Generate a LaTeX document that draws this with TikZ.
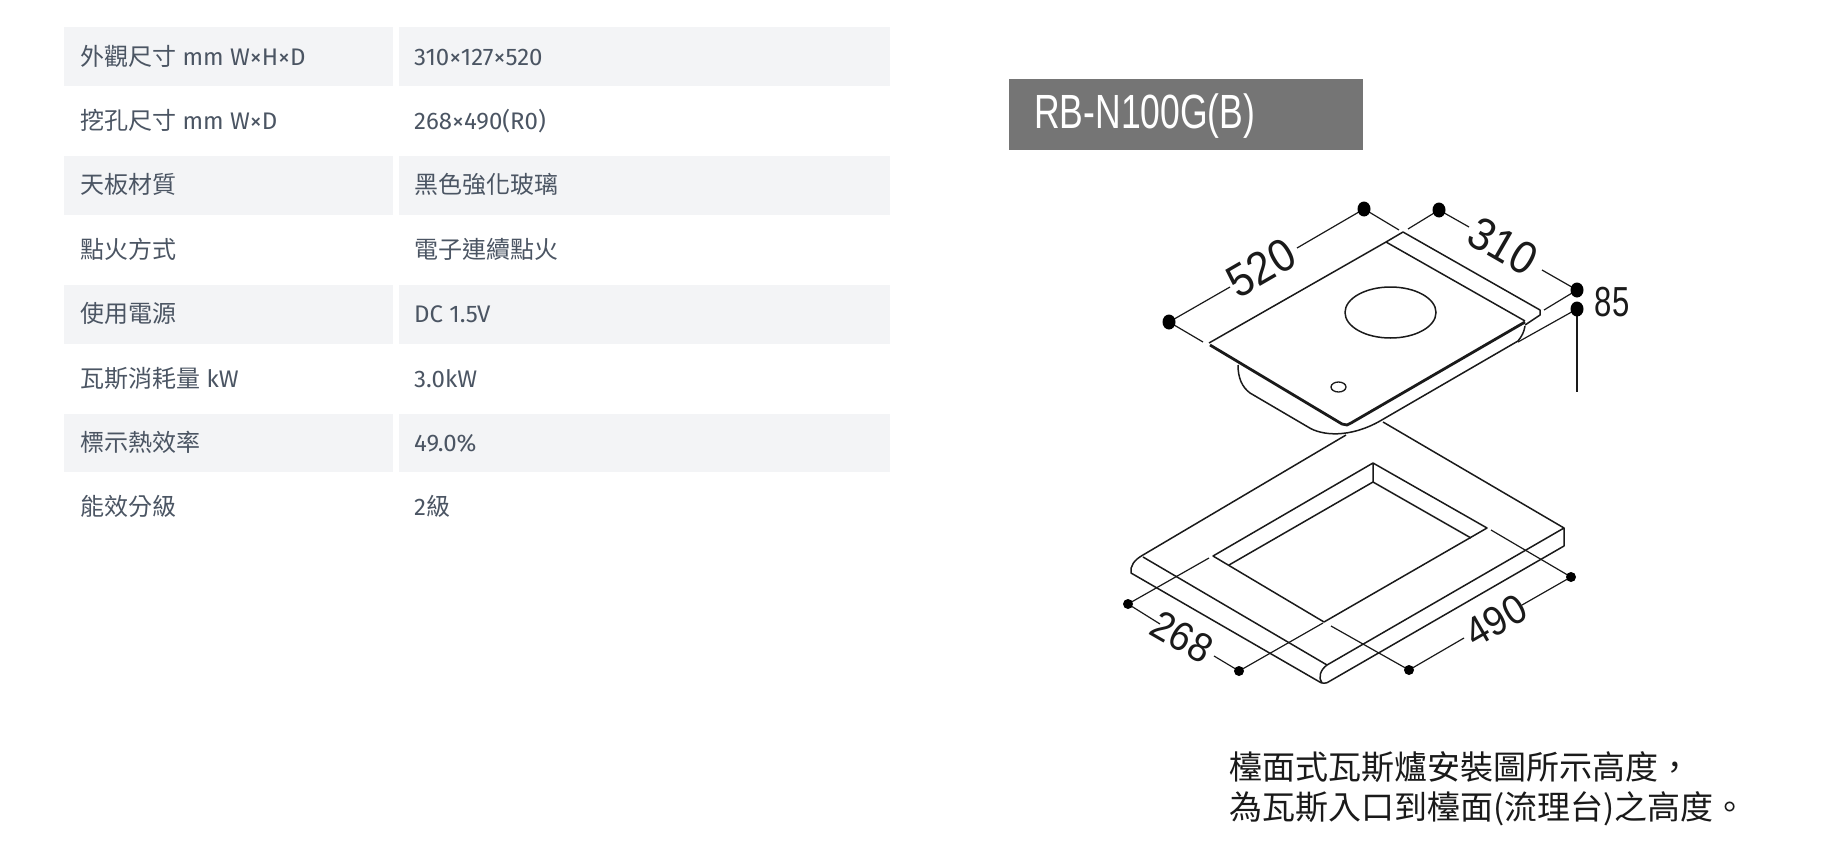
\documentclass[tikz,border=0pt]{standalone}
\usepackage{fontspec}
\usetikzlibrary{shapes.geometric}
\setmainfont{Fira Sans}
\newfontfamily\cjk{Noto Sans CJK TC}
\newfontfamily\dimfont[FakeStretch=0.74]{Liberation Sans}
\newfontfamily\numfont[FakeStretch=0.92]{Liberation Sans}
\definecolor{rowbg}{HTML}{F3F4F6}
\definecolor{rowtx}{HTML}{4B5563}
\definecolor{titlebg}{HTML}{757575}
\definecolor{ink}{HTML}{1A1A1A}
\tikzset{
  celltext/.style={anchor=base west,inner sep=0pt,text=rowtx,font=\fontsize{24}{24}\selectfont},
  dimline/.style={line width=1.2pt,draw=ink},
  edgeline/.style={line width=1.5pt,draw=ink,line join=round},
  thickedge/.style={line width=2.8pt,draw=ink,line join=round},
  dimdot/.style={ellipse,fill=black,inner sep=0pt,minimum width=13pt,minimum height=15pt},
  smalldot/.style={circle,fill=black,inner sep=0pt,minimum size=10pt},
  dimtext/.style={inner sep=0pt,text=ink,font=\numfont\fontsize{46}{46}\selectfont},
  lowdimtext/.style={inner sep=0pt,text=ink,font=\numfont\fontsize{41}{41}\selectfont},
}
\begin{document}
\begin{tikzpicture}[x=1pt,y=-1pt]
\useasboundingbox (0,0) rectangle (1826,846);
% table
\foreach \r in {27,156,285,413.5}{
  \fill[rowbg] (64,\r) rectangle (393,\r+58.5);
  \fill[rowbg] (399,\r) rectangle (890,\r+58.5);
}
\node[celltext] (l1) at (80,65) {{\cjk 外觀尺寸} mm W×H×D};
\node[celltext] (v1) at (414,65) {310×127×520};
\node[celltext] (l2) at (80,129) {{\cjk 挖孔尺寸} mm W×D};
\node[celltext] (v2) at (414,129) {268×490(R0)};
\node[celltext] (l3) at (80,193) {{\cjk 天板材質}};
\node[celltext] (v3) at (414,193) {{\cjk 黑色強化玻璃}};
\node[celltext] (l4) at (80,258) {{\cjk 點火方式}};
\node[celltext] (v4) at (414,258) {{\cjk 電子連續點火}};
\node[celltext] (l5) at (80,322) {{\cjk 使用電源}};
\node[celltext] (v5) at (414,322) {DC 1.5V};
\node[celltext] (l6) at (80,387) {{\cjk 瓦斯消耗量} kW};
\node[celltext] (v6) at (414,387) {3.0kW};
\node[celltext] (l7) at (80,451) {{\cjk 標示熱效率}};
\node[celltext] (v7) at (414,451) {49.0\%};
\node[celltext] (l8) at (80,515) {{\cjk 能效分級}};
\node[celltext] (v8) at (414,515) {2{\cjk 級}};
% title
\fill[titlebg] (1009,79) rectangle (1363,150);
\node[anchor=base west,inner sep=0pt,text=white,font=\dimfont\fontsize{48}{48}\selectfont] (title) at (1034,128) {RB-N100G(B)};
% coordinates upper
\coordinate (dL) at (1169,322); \coordinate (dT1) at (1364,209); \coordinate (dT2) at (1439,210);
\coordinate (dR1) at (1577,290); \coordinate (dR2) at (1577,309);
% body of hob
\draw[edgeline] (1238,365) .. controls (1238,378) and (1242,387) .. (1250,393) -- (1308,427) .. controls (1322,436) and (1350,438) .. (1380,421) -- (1518,341) .. controls (1522,336) and (1524,332) .. (1525,326);
% panel
\draw[edgeline] (1209,343) -- (1386,242) -- (1525,321);
\draw[thickedge] (1210,345) -- (1342,424) -- (1347,425) -- (1351,423) -- (1525,322);
\draw[edgeline] (1386,242) -- (1403,232) -- (1540,310) -- (1540,315) -- (1525,325);
% burner
\draw[edgeline] (1390.5,312.5) ellipse [x radius=45.5,y radius=25.5];
\draw[edgeline,line width=1.3pt] (1338.5,387) ellipse [x radius=7.5,y radius=5];
% dims upper
\draw[dimline] (dL) -- (1230,287) (1297,248) -- (dT1);
\draw[dimline] (dL) -- (1203,342);
\draw[dimline] (dT1) -- (1399,230);
\draw[dimline] (dT2) -- (1408,229);
\draw[dimline] (dT2) -- (1469,227) (1542,270) -- (dR1);
\draw[dimline] (dR1) -- (1544,310);
\draw[dimline] (dR2) -- (1518,342);
\draw[dimline] (dR2) -- (1577,392);
\node[dimdot] (nL) at (dL) {};
\node[dimdot] (nT1) at (dT1) {};
\node[dimdot] (nT2) at (dT2) {};
\node[dimdot] (nR1) at (dR1) {};
\node[dimdot] (nR2) at (dR2) {};
\node[dimtext,rotate=30] (t520) at (1261,268) {520};
\node[dimtext,rotate=-30] (t310) at (1503,246) {310};
\node[dimtext,font=\dimfont\fontsize{42}{42}\selectfont] (t85) at (1612,302) {85};
% counter
\draw[edgeline] (1346,435) -- (1143,555) .. controls (1134,560) and (1130,566) .. (1131,573) -- (1318,681) .. controls (1322,684) and (1326,684) .. (1330,681) -- (1564,546) -- (1564,528) -- (1327,665) .. controls (1320,670) and (1318,678) .. (1322,683);
\draw[edgeline] (1143,557) -- (1327,665);
\draw[edgeline] (1383,422) -- (1564,528);
% hole
\draw[edgeline] (1373,482) -- (1373,463) -- (1487,528) -- (1324,622) -- (1213,556) -- (1373,463);
\draw[edgeline] (1229,565) -- (1373,482) -- (1471,538);
% dims lower
\coordinate (dA) at (1128,604); \coordinate (dB) at (1239,671); \coordinate (dC) at (1409,670); \coordinate (dD) at (1571,577);
\draw[dimline] (dA) -- (1209,558);
\draw[dimline] (dA) -- (1160,624) (1214,656) -- (dB);
\draw[dimline] (dB) -- (1323,623);
\draw[dimline] (dC) -- (1331,626);
\draw[dimline] (dC) -- (1464,638) (1522,605) -- (dD);
\draw[dimline] (dD) -- (1491,530);
\node[smalldot] (nA) at (dA) {};
\node[smalldot] (nB) at (dB) {};
\node[smalldot] (nC) at (dC) {};
\node[smalldot] (nD) at (dD) {};
\node[lowdimtext,rotate=-30] (t268) at (1182,637) {268};
\node[lowdimtext,rotate=30] (t490) at (1496,621) {490};
% note
\node[anchor=base west,inner sep=0pt,text=ink,font=\cjk\fontsize{33}{33}\selectfont] (n1) at (1229,779) {檯面式瓦斯爐安裝圖所示高度，};
\node[anchor=base west,inner sep=0pt,text=ink,font=\cjk\fontsize{33}{33}\selectfont] (n2) at (1229,819) {為瓦斯入口到檯面(流理台)之高度。};
\end{tikzpicture}
\end{document}
